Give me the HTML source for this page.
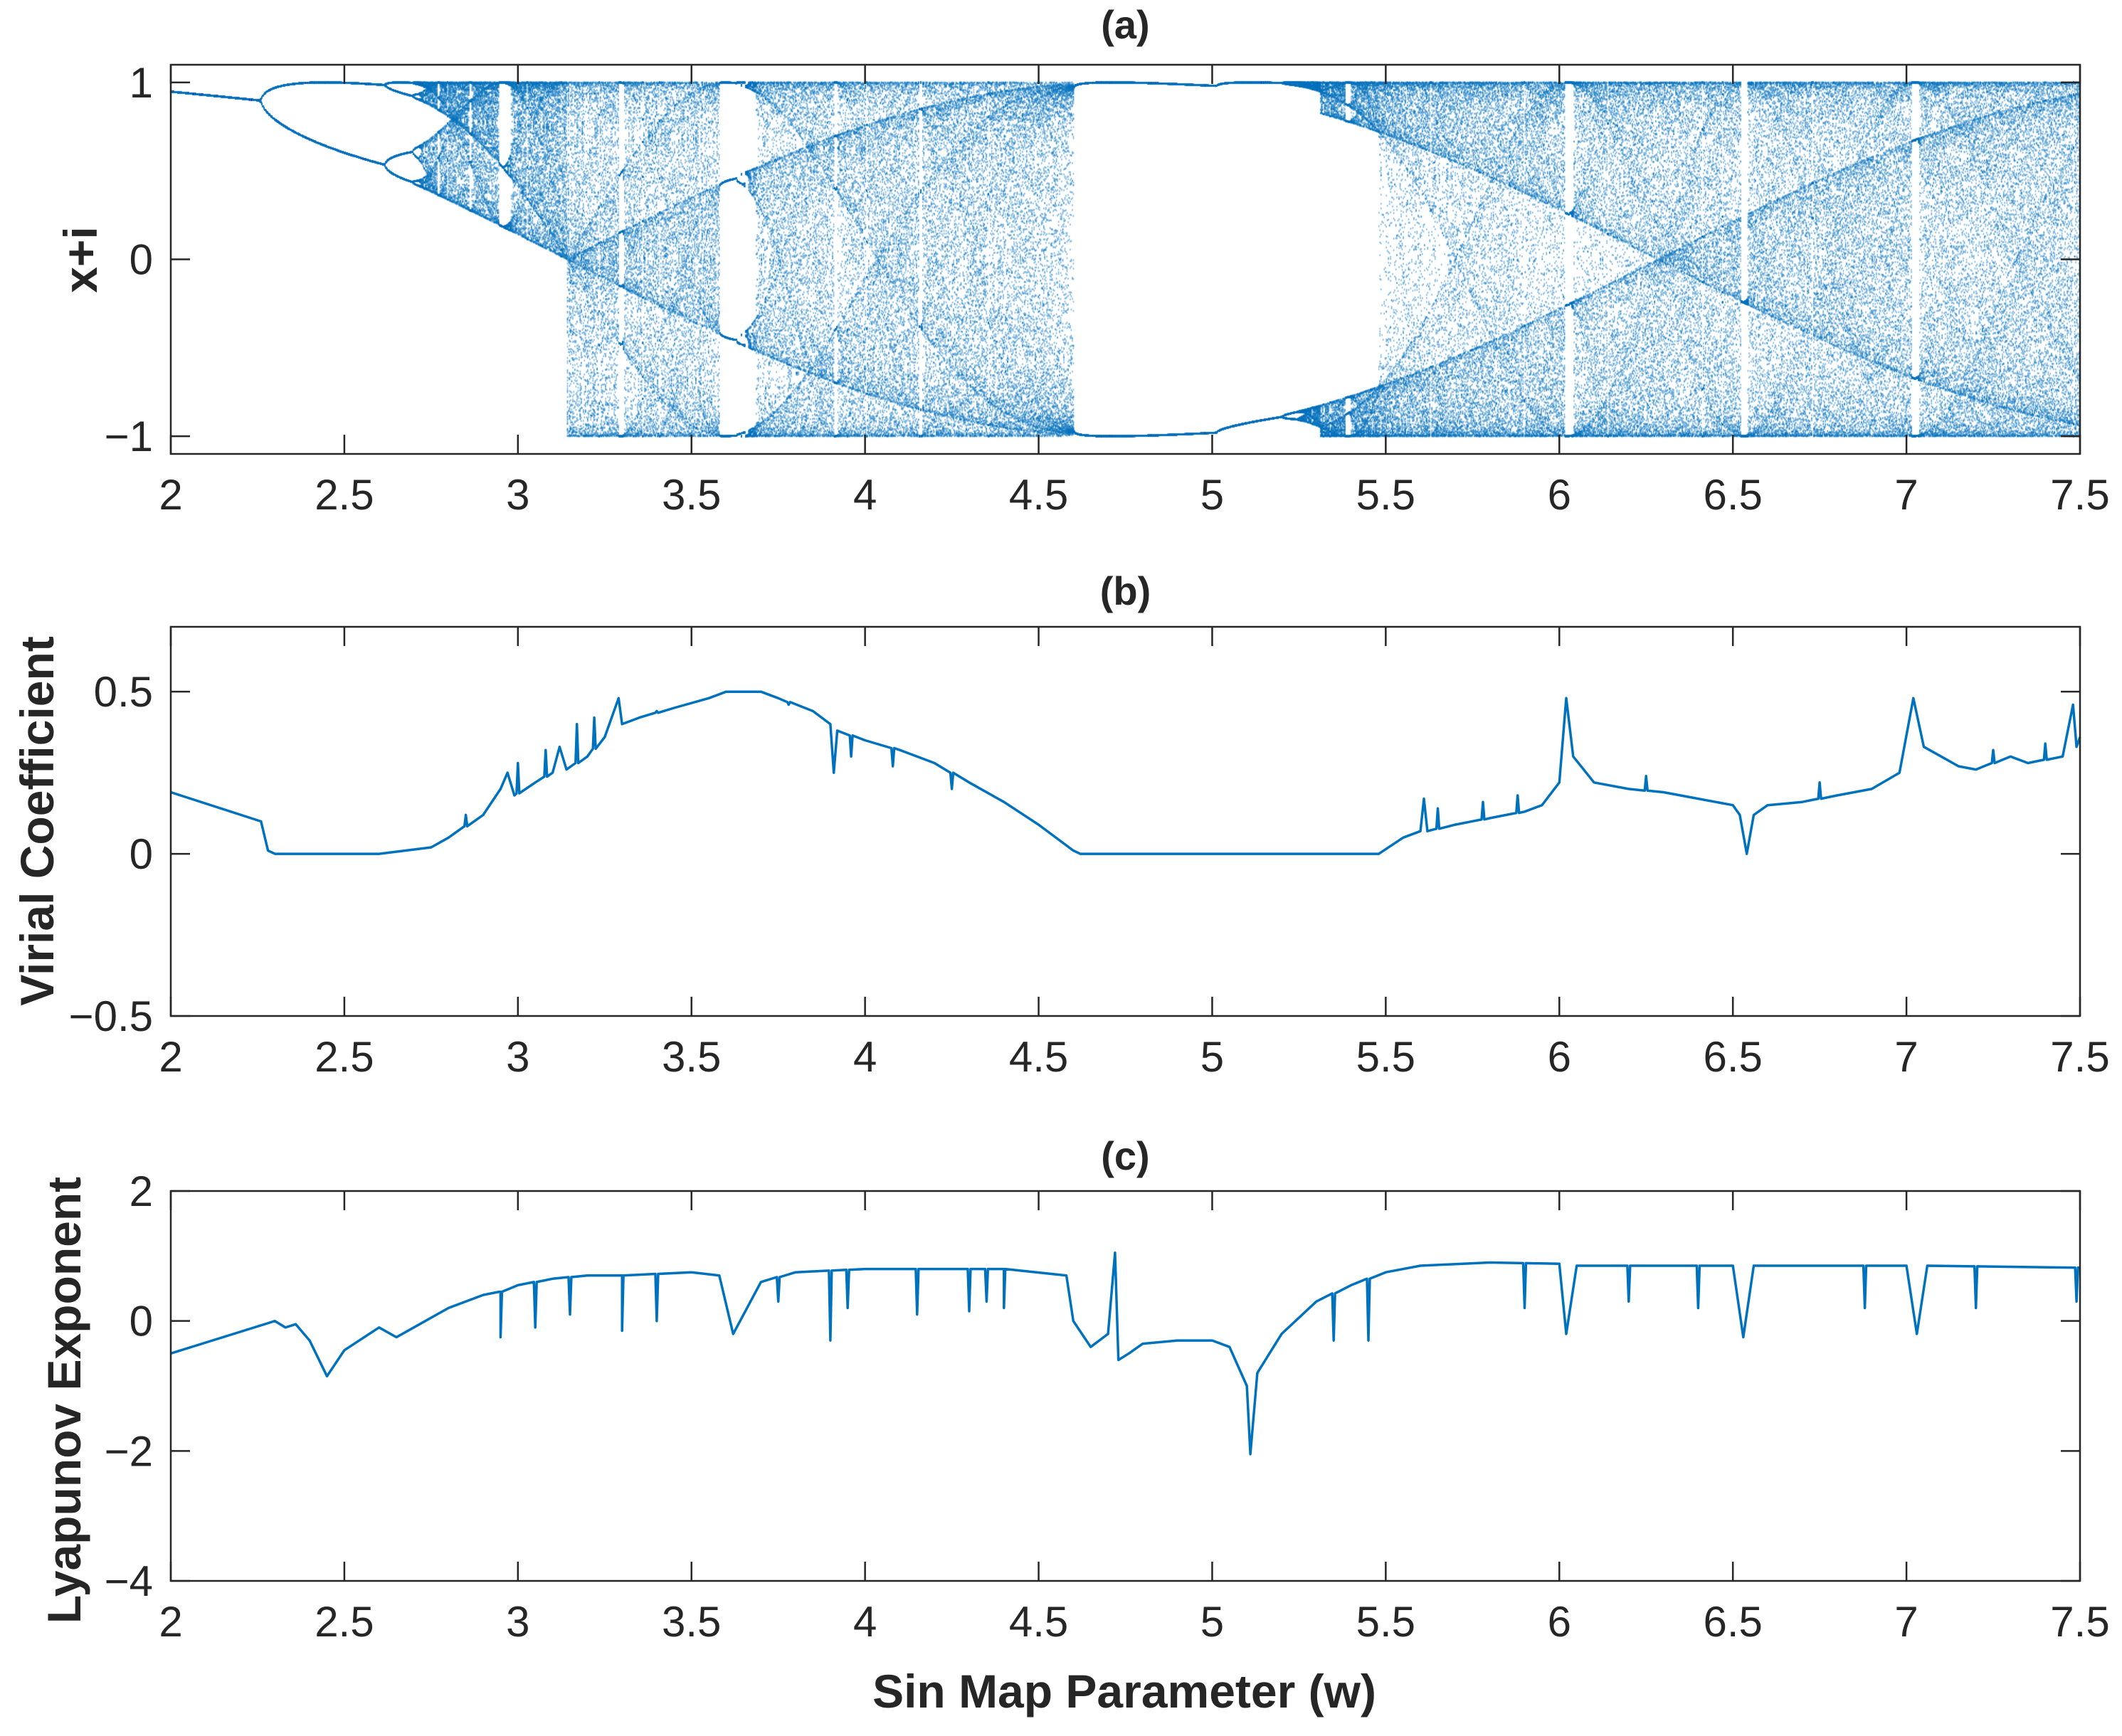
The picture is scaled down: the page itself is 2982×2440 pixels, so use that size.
<!DOCTYPE html>
<html><head><meta charset="utf-8"><style>
body{margin:0;background:#fff;}
#wrap{position:relative;width:2982px;height:2440px;overflow:hidden;background:#fff;}
canvas,svg{position:absolute;left:0;top:0;}
text{font-family:"Liberation Sans",Arial,sans-serif;fill:#262626;}
.tick{font-size:60px;}
.ttl{font-size:56px;font-weight:bold;}
.lab{font-family:"Liberation Sans Narrow","Liberation Sans",sans-serif;font-weight:bold;font-size:66px;}
</style></head><body>
<div id="wrap">
<canvas id="bif" width="2982" height="2440"></canvas>
<svg id="svg" width="2982" height="2440"></svg>
</div>
<script>
// ---------- data ----------
const xTicks=[2,2.5,3,3.5,4,4.5,5,5.5,6,6.5,7,7.5];
const xTickLabels=["2","2.5","3","3.5","4","4.5","5","5.5","6","6.5","7","7.5"];
const aTicks=[1,0,-1];const aTickLabels=["1","0","\u22121"];
const bTicks=[0.5,0,-0.5];const bTickLabels=["0.5","0","\u22120.5"];
const cTicks=[2,0,-2,-4];const cTickLabels=["2","0","\u22122","\u22124"];
// bifurcation: sin map x -> sin(w x), parameter sweep
const bifRange=[2,7.5];
const bifSteps=[1800];
const bifTransient=[300];
const bifKeep=[110];
// virial coefficient (panel b)
const virW=[2.0,2.26,2.28,2.3,2.6,2.75,2.8,2.9,2.95,2.97,2.99,3.05,3.1,3.12,3.14,3.2,3.25,3.29,3.3,3.35,3.45,3.55,3.6,3.7,3.75,3.85,3.9,3.91,3.92,4.0,4.1,4.2,4.3,4.4,4.5,4.6,4.62,5.48,5.55,5.6,5.61,5.62,5.7,5.8,5.9,5.95,6.0,6.02,6.04,6.1,6.2,6.3,6.4,6.5,6.52,6.54,6.56,6.6,6.7,6.8,6.9,6.98,7.02,7.05,7.1,7.15,7.2,7.3,7.35,7.45,7.48,7.49,7.5];
const virV=[0.19,0.10,0.01,0.0,0.0,0.02,0.05,0.12,0.2,0.25,0.18,0.22,0.25,0.33,0.26,0.3,0.36,0.48,0.4,0.42,0.45,0.48,0.5,0.5,0.48,0.44,0.4,0.25,0.38,0.35,0.32,0.28,0.22,0.16,0.09,0.01,0.0,0.0,0.05,0.07,0.17,0.07,0.09,0.11,0.13,0.15,0.22,0.48,0.3,0.22,0.2,0.19,0.17,0.15,0.12,0.0,0.12,0.15,0.16,0.18,0.2,0.25,0.48,0.33,0.3,0.27,0.26,0.3,0.28,0.3,0.46,0.33,0.36];
const virSpikeW=[2.85,3.0,3.08,3.17,3.22,3.4,3.78,3.96,4.08,4.25,5.65,5.78,5.88,6.25,6.75,7.25,7.4];
const virSpikeV=[0.12,0.28,0.32,0.4,0.42,0.44,0.46,0.3,0.27,0.2,0.14,0.16,0.18,0.24,0.22,0.32,0.34];
// Lyapunov exponent (panel c)
const lyaW=[2.0,2.3,2.33,2.36,2.4,2.45,2.5,2.6,2.65,2.7,2.8,2.9,2.95,3.0,3.1,3.2,3.3,3.5,3.58,3.62,3.66,3.7,3.8,4.0,4.2,4.4,4.58,4.6,4.65,4.7,4.72,4.73,4.76,4.8,4.9,5.0,5.05,5.1,5.11,5.13,5.2,5.3,5.4,5.5,5.6,5.8,6.0,6.02,6.05,6.5,6.53,6.56,7.0,7.03,7.06,7.5];
const lyaV=[-0.5,0.0,-0.1,-0.05,-0.3,-0.85,-0.45,-0.1,-0.25,-0.1,0.2,0.4,0.45,0.55,0.65,0.7,0.7,0.75,0.7,-0.2,0.2,0.6,0.75,0.8,0.8,0.8,0.7,0.0,-0.4,-0.2,1.05,-0.6,-0.5,-0.35,-0.3,-0.3,-0.4,-1.0,-2.05,-0.8,-0.2,0.3,0.55,0.75,0.85,0.9,0.88,-0.2,0.85,0.85,-0.25,0.85,0.85,-0.2,0.85,0.82];
const lyaSpikeW=[2.95,3.05,3.15,3.3,3.4,3.75,3.9,3.95,4.15,4.3,4.35,4.4,5.35,5.45,5.9,6.2,6.4,6.88,7.2,7.49];
const lyaSpikeV=[-0.25,-0.1,0.1,-0.15,0.0,0.3,-0.3,0.2,0.1,0.15,0.3,0.2,-0.3,-0.3,0.2,0.3,0.2,0.2,0.2,0.3];
// ---------- layout ----------
const L=240,R=2923;
const panels=[
 {id:'a',top:91,bot:638,y0:-1.1,y1:1.1,ticks:aTicks,labels:aTickLabels,title:'(a)',ty:54,lab:'x+i',lx:114,ly:365},
 {id:'b',top:881,bot:1428,y0:-0.5,y1:0.7,ticks:bTicks,labels:bTickLabels,title:'(b)',ty:850,lab:'Virial Coefficient',lx:53,ly:1154},
 {id:'c',top:1674,bot:2222,y0:-4,y1:2,ticks:cTicks,labels:cTickLabels,title:'(c)',ty:1644,lab:'Lyapunov Exponent',lx:91,ly:1968}
];
const xs=w=>L+(w-2)/(7.5-2)*(R-L);
const ysf=p=>v=>p.bot-(v-p.y0)/(p.y1-p.y0)*(p.bot-p.top);
const NS='http://www.w3.org/2000/svg';
const svg=document.getElementById('svg');
function mk(tag,attrs,parent){const e=document.createElementNS(NS,tag);for(const k in attrs)e.setAttribute(k,attrs[k]);(parent||svg).appendChild(e);return e;}
// ---------- bifurcation ----------
(function(){
 const ctx=document.getElementById('bif').getContext('2d');
 const ys=ysf(panels[0]);
 ctx.fillStyle='rgba(0,114,189,0.5)';
 const n=bifSteps[0];
 for(let i=0;i<=n;i++){
  const w=bifRange[0]+(bifRange[1]-bifRange[0])*i/n;
  let x=0.3;
  for(let k=0;k<bifTransient[0];k++)x=Math.sin(w*x);
  const px=xs(w);
  for(let k=0;k<bifKeep[0];k++){x=Math.sin(w*x);ctx.fillRect(px-0.8,ys(x)-1.3,1.6,2.6);}
 }
})();
function merge(W,V,SW,SV){
 const pts=W.map((w,i)=>[w,V[i]]);
 const interp=w=>{for(let i=0;i<W.length-1;i++){if(w>=W[i]&&w<=W[i+1]){const t=(w-W[i])/(W[i+1]-W[i]);return V[i]+t*(V[i+1]-V[i]);}}return V[V.length-1];};
 SW.forEach((w,i)=>{const b=interp(w);pts.push([w-0.004,b]);pts.push([w,SV[i]]);pts.push([w+0.004,b]);});
 pts.sort((a,b)=>a[0]-b[0]);return pts;
}
// ---------- axes ----------
panels.forEach((p,pi)=>{
 const ys=ysf(p);
 const g=mk('g',{});
 
 
 if(pi>0){
  const pts=pi==1?merge(virW,virV,virSpikeW,virSpikeV):merge(lyaW,lyaV,lyaSpikeW,lyaSpikeV);
  const d=pts.map((q,i)=>(i?'L':'M')+xs(q[0]).toFixed(1)+','+ys(q[1]).toFixed(1)).join('');
  const pl=mk('path',{d:d,fill:'none',stroke:'#0072BD','stroke-width':3.5,'stroke-linejoin':'round'},g);
  
  
 }
 const box=mk('rect',{x:L,y:p.top,width:R-L,height:p.bot-p.top,fill:'none',stroke:'#262626','stroke-width':2.5},g);
 
 
 xTicks.forEach((t,i)=>{
  const x=xs(t);
  mk('line',{x1:x,x2:x,y1:p.bot,y2:p.bot-27,stroke:'#262626','stroke-width':2.5},g);
  mk('line',{x1:x,x2:x,y1:p.top,y2:p.top+27,stroke:'#262626','stroke-width':2.5},g);
  const tx=mk('text',{x:x,y:p.bot+78,'text-anchor':'middle',class:'tick'},g);
  tx.textContent=xTickLabels[i];
  
  
 });
 p.ticks.forEach((t,i)=>{
  const y=ys(t);
  mk('line',{x1:L,x2:L+27,y1:y,y2:y,stroke:'#262626','stroke-width':2.5},g);
  mk('line',{x1:R,x2:R-27,y1:y,y2:y,stroke:'#262626','stroke-width':2.5},g);
  const tx=mk('text',{x:215,y:y+21,'text-anchor':'end',class:'tick'},g);
  tx.textContent=p.labels[i];
  
  
 });
 const tt=mk('text',{x:(L+R)/2,y:p.ty,'text-anchor':'middle',class:'ttl'},g);
 tt.textContent=p.title;
 
 
 const yl=mk('text',{x:0,y:0,'text-anchor':'middle',class:'lab',transform:'translate('+(p.lx+22)+','+p.ly+') rotate(-90)'},g);
 yl.textContent=p.lab;
 
 
});
const xl=mk('text',{x:1580,y:2400,'text-anchor':'middle',class:'lab'});
xl.textContent='Sin Map Parameter (w)';


</script>
</body></html>
